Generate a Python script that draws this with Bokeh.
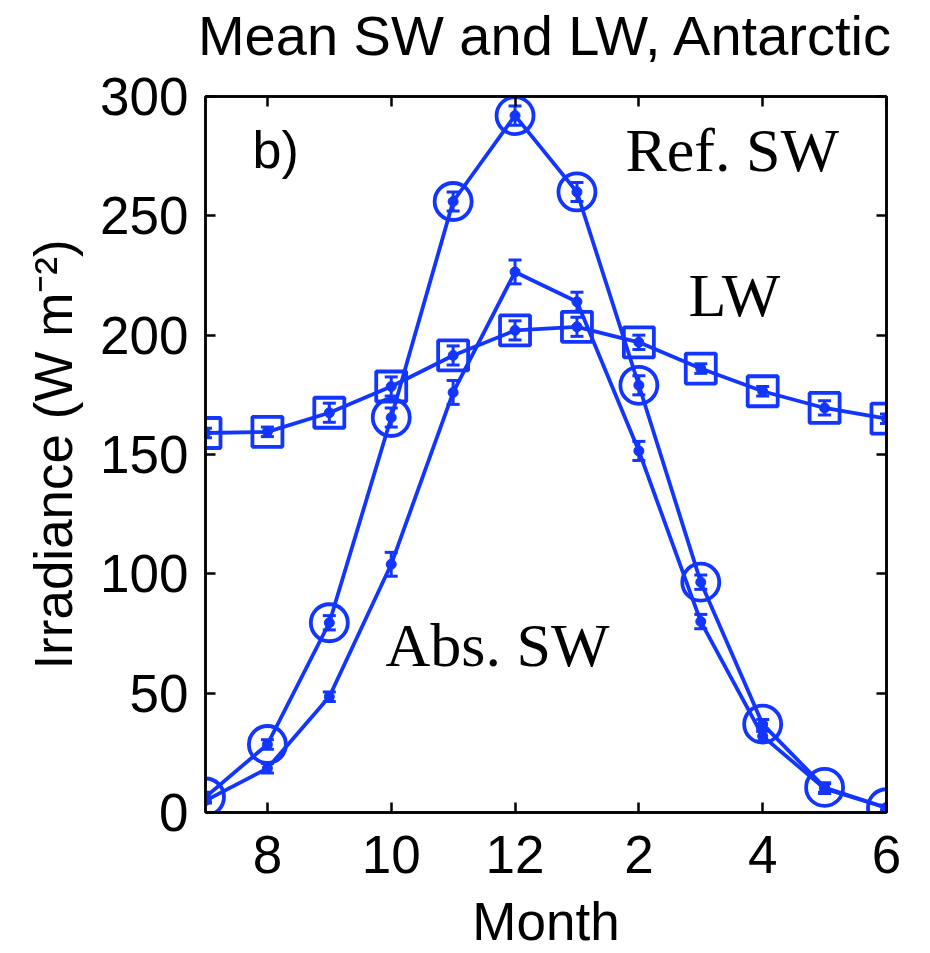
from bokeh.plotting import figure
from bokeh.models import (Range1d, FixedTicker, LinearAxis, Label, Whisker,
                          ColumnDataSource, CustomJSTickFormatter, TeeHead)
from bokeh.embed import file_html
from bokeh.resources import INLINE

# ---------------- data ----------------
months = [7, 8, 9, 10, 11, 12, 13, 14, 15, 16, 17, 18]
x_tick_values = [8, 10, 12, 14, 16, 18]
x_tick_labels = ["8", "10", "12", "2", "4", "6"]
y_tick_values = [0, 50, 100, 150, 200, 250, 300]

ref_sw = [6.5, 28.5, 79.5, 165.5, 256, 292, 260, 179, 96.5, 37, 10.5, 2]
ref_sw_err = [2, 2, 3, 4, 4, 4, 4, 4, 3, 2, 2, 1]

abs_sw = [5, 18.5, 48.5, 104, 176, 226.5, 214, 151.5, 80, 32, 10, 2]
abs_sw_err = [1, 2, 2, 5, 5, 5, 4, 4, 3, 2, 2, 1]

lw = [159, 159.5, 167.5, 178.5, 191.5, 202, 203.5, 197, 186, 176.5, 169.5, 165]
lw_err = [2, 2, 4, 4, 4, 4, 4, 3, 2, 2, 3, 2]

title_text = "Mean SW and LW, Antarctic"
x_label = "Month"
y_label = "Irradiance (W m\u207b\u00b2)"

BLUE = "#1236ff"
SANS = "Liberation Sans"
SERIF = "Liberation Serif"
FS = "53px"

p = figure(width=930, height=953, output_backend="svg", toolbar_location=None,
           title=None,
           x_range=Range1d(7, 18), y_range=Range1d(0, 300),
           min_border_left=205, min_border_right=44,
           min_border_top=96, min_border_bottom=141)
p.background_fill_color = "white"
p.border_fill_color = "white"
p.grid.visible = False
p.outline_line_color = "black"
p.outline_line_width = 2.5


def style_axis(ax, show_labels):
    ax.axis_line_color = "black"
    ax.axis_line_width = 2.5
    ax.major_tick_line_color = "black"
    ax.major_tick_line_width = 2.5
    ax.major_tick_in = 10
    ax.major_tick_out = 0
    ax.minor_tick_line_color = None
    ax.major_label_text_font = SANS
    ax.major_label_text_font_size = FS
    ax.major_label_text_color = "black"
    ax.axis_label_text_font = SANS
    ax.axis_label_text_font_size = FS
    ax.axis_label_text_font_style = "normal"
    ax.axis_label_text_color = "black"
    if not show_labels:
        ax.formatter = CustomJSTickFormatter(code="return ''")
        ax.major_label_standoff = 0


xa = p.xaxis[0]
ya = p.yaxis[0]
xa.ticker = FixedTicker(ticks=x_tick_values)
xa.major_label_overrides = {v: l for v, l in zip(x_tick_values, x_tick_labels)}
ya.ticker = FixedTicker(ticks=y_tick_values)
style_axis(xa, True)
style_axis(ya, True)
xa.major_label_standoff = 23
xa.axis_label = x_label
xa.axis_label_standoff = 16
ya.major_label_standoff = 17
ya.axis_label = y_label
ya.axis_label_standoff = 14

# top axis carries the chart title as its label (ticks only, no tick labels)
top_ax = LinearAxis(ticker=FixedTicker(ticks=x_tick_values))
right_ax = LinearAxis(ticker=FixedTicker(ticks=y_tick_values))
style_axis(top_ax, False)
style_axis(right_ax, False)
top_ax.axis_label = title_text
top_ax.axis_label_text_font_size = "56px"
top_ax.axis_label_standoff = 30
p.add_layout(top_ax, "above")
p.add_layout(right_ax, "right")

# ---------------- series ----------------
series = [
    (ref_sw, ref_sw_err, "circle", 37),
    (abs_sw, abs_sw_err, None, 0),
    (lw, lw_err, "square", 30),
]

for vals, errs, marker, msize in series:
    src = ColumnDataSource(dict(
        x=months, y=vals,
        upper=[v + e for v, e in zip(vals, errs)],
        lower=[v - e for v, e in zip(vals, errs)],
    ))
    p.line("x", "y", source=src, line_color=BLUE, line_width=3.8)
    w = Whisker(source=src, base="x", upper="upper", lower="lower",
                dimension="height", line_color=BLUE, line_width=3,
                upper_head=TeeHead(size=13, line_color=BLUE, line_width=3),
                lower_head=TeeHead(size=13, line_color=BLUE, line_width=3))
    p.add_layout(w)
    p.scatter("x", "y", source=src, marker="circle", size=10,
              fill_color=BLUE, line_color=BLUE)
    if marker:
        p.scatter("x", "y", source=src, marker=marker, size=msize,
                  fill_color=None, line_color=BLUE, line_width=3.8)

# ---------------- text ----------------
p.add_layout(Label(x=47, y=663, x_units="screen", y_units="screen",
                   text="b)", text_align="left", text_baseline="alphabetic",
                   text_font=SANS, text_font_size="52px", text_color="black"))
for txt, sx, sy in [("Ref. SW", 420, 663), ("LW", 483, 518), ("Abs. SW", 180, 168)]:
    p.add_layout(Label(x=sx, y=sy, x_units="screen", y_units="screen",
                       text=txt, text_align="left", text_baseline="alphabetic",
                       text_font=SERIF, text_font_size="62px",
                       text_color="black"))

open("out.html", "w").write(file_html(p, INLINE))
